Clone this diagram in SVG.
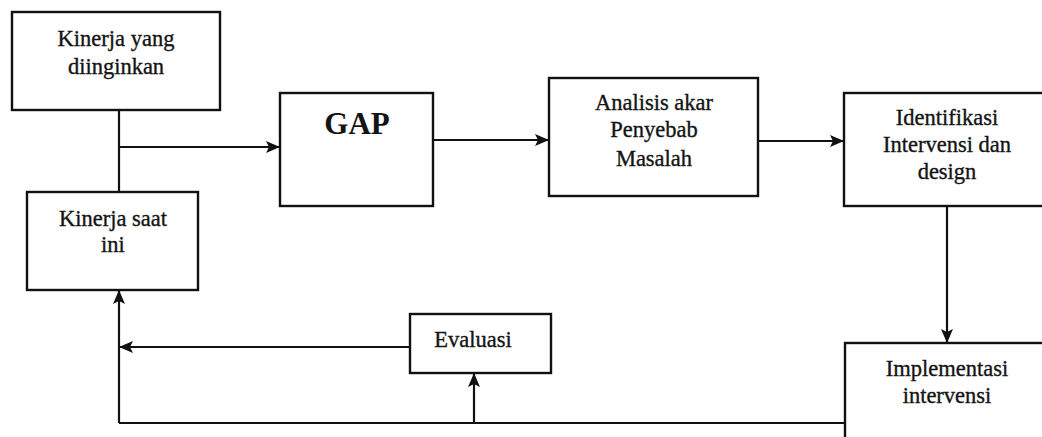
<svg xmlns="http://www.w3.org/2000/svg" width="1042" height="437" viewBox="0 0 1042 437">
  <style>
    .box { fill: #ffffff; stroke: #111111; stroke-width: 2.4; }
    .lbl { font-family: "Liberation Serif", "Times New Roman", serif; font-size: 22.5px; fill: #141414; stroke: #141414; stroke-width: 0.35; text-anchor: middle; }
    .big { font-family: "Liberation Serif", "Times New Roman", serif; font-size: 31px; font-weight: bold; fill: #141414; text-anchor: middle; }
    .wire { fill: none; stroke: #111111; stroke-width: 2.2; }
  </style>
  <defs>
    <marker id="head" viewBox="0 0 14 12" refX="14" refY="6" markerWidth="14" markerHeight="12" markerUnits="userSpaceOnUse" orient="auto">
      <path d="M0,0 L14,6 L0,12 L3,6 Z" fill="#111111"/>
    </marker>
  </defs>

  <rect width="1042" height="437" fill="#ffffff"/>

  <!-- connectors -->
  <g id="connectors">
    <!-- desired / current performance joined by a vertical bar -->
    <path class="wire" d="M119,110 V192"/>
    <!-- into GAP -->
    <path class="wire" d="M119,147 H280" marker-end="url(#head)"/>
    <!-- GAP to root-cause analysis -->
    <path class="wire" d="M433,140 H549" marker-end="url(#head)"/>
    <!-- analysis to intervention design -->
    <path class="wire" d="M758,141 H844" marker-end="url(#head)"/>
    <!-- design down to implementation -->
    <path class="wire" d="M947,206 V343" marker-end="url(#head)"/>
    <!-- feedback line along the bottom -->
    <path class="wire" d="M845,423 H119"/>
    <path class="wire" d="M119,423 V290" marker-end="url(#head)"/>
    <!-- up into evaluation -->
    <path class="wire" d="M474,423 V373" marker-end="url(#head)"/>
    <!-- evaluation back to current performance -->
    <path class="wire" d="M410,347 H119" marker-end="url(#head)"/>
  </g>

  <g id="kinerja-diinginkan">
    <rect class="box" x="12" y="12" width="208" height="98"/>
    <text class="lbl" x="116" y="46">Kinerja yang</text>
    <text class="lbl" x="116" y="74">diinginkan</text>
  </g>

  <g id="kinerja-saat-ini">
    <rect class="box" x="27" y="192" width="171" height="98"/>
    <text class="lbl" x="113" y="226">Kinerja saat</text>
    <text class="lbl" x="113" y="252">ini</text>
  </g>

  <g id="gap">
    <rect class="box" x="280" y="93" width="153" height="113"/>
    <text class="big" x="357" y="134">GAP</text>
  </g>

  <g id="analisis">
    <rect class="box" x="549" y="78" width="209" height="118"/>
    <text class="lbl" x="654" y="110">Analisis akar</text>
    <text class="lbl" x="654" y="137">Penyebab</text>
    <text class="lbl" x="654" y="166">Masalah</text>
  </g>

  <g id="identifikasi">
    <rect class="box" x="844" y="93" width="210" height="113"/>
    <text class="lbl" x="947" y="125">Identifikasi</text>
    <text class="lbl" x="947" y="152">Intervensi dan</text>
    <text class="lbl" x="947" y="179">design</text>
  </g>

  <g id="implementasi">
    <rect class="box" x="845" y="343" width="210" height="110"/>
    <text class="lbl" x="947" y="376">Implementasi</text>
    <text class="lbl" x="947" y="403">intervensi</text>
  </g>

  <g id="evaluasi">
    <rect class="box" x="410" y="314" width="141" height="59"/>
    <text class="lbl" x="473" y="347">Evaluasi</text>
  </g>
</svg>
